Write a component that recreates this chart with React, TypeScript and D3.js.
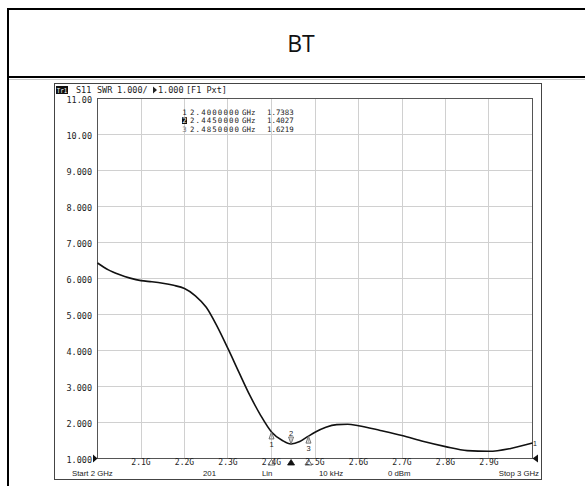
import React from 'react';
import * as d3 from 'd3';

// ---- data ----
const freqGHz = [2.0, 2.025, 2.05, 2.075, 2.1, 2.125, 2.15, 2.175, 2.2, 2.225, 2.25, 2.275, 2.3, 2.325, 2.35, 2.375, 2.4, 2.425, 2.445, 2.465, 2.485, 2.5, 2.525, 2.55, 2.575, 2.6, 2.65, 2.7, 2.75, 2.8, 2.85, 2.9, 2.95, 3.0];
const swrValues = [6.43, 6.24, 6.11, 6.01, 5.94, 5.91, 5.87, 5.81, 5.72, 5.52, 5.2, 4.67, 4.05, 3.4, 2.76, 2.2, 1.738, 1.5, 1.403, 1.47, 1.622, 1.73, 1.87, 1.94, 1.95, 1.91, 1.78, 1.64, 1.47, 1.33, 1.22, 1.2, 1.28, 1.43];

const xTicks = [2.1, 2.2, 2.3, 2.4, 2.5, 2.6, 2.7, 2.8, 2.9];
const xTickLabels = ['2.1G', '2.2G', '2.3G', '2.4G', '2.5G', '2.6G', '2.7G', '2.8G', '2.9G'];
const yTicks = [1, 2, 3, 4, 5, 6, 7, 8, 9, 10, 11];
const yTickLabels = ['1.000', '2.000', '3.000', '4.000', '5.000', '6.000', '7.000', '8.000', '9.000', '10.00', '11.00'];

const markerIds = ['1', '2', '3'];
const markerFreqs = [2.4, 2.445, 2.485];
const markerFreqText = ['2.4000000', '2.4450000', '2.4850000'];
const markerValues = [1.7383, 1.4027, 1.6219];

const footerLabels = ['Start 2 GHz', '201', 'Lin', '10 kHz', '0 dBm', 'Stop 3 GHz'];
const footerX = [72, 203, 262, 319, 388, 539];

const titleText = 'BT';

const W = 585;
const H = 486;
const mono = "'DejaVu Sans Mono', monospace";
const sans = "'Liberation Sans', Arial, sans-serif";

export default function App() {
  const x = d3.scaleLinear().domain([2, 3]).range([97.5, 532.5]);
  const y = d3.scaleLinear().domain([1, 11]).range([458.5, 98.5]);
  const snap = (v: number) => Math.round(v - 0.5) + 0.5;

  const pts = freqGHz.map((f, i) => [f, swrValues[i]] as [number, number]);
  const line = d3
    .line<[number, number]>()
    .x((d) => x(d[0]))
    .y((d) => y(d[1]))
    .curve(d3.curveMonotoneX);

  return (
    <svg width={W} height={H} style={{ position: 'absolute', left: 0, top: 0, background: '#fff' }}>
      {/* outer frame */}
      <rect x={7} y={8} width={2} height={H - 8} fill="#000" />
      <rect x={7} y={8} width={W - 7} height={2} fill="#000" />
      <rect x={7} y={76} width={W - 7} height={2} fill="#000" />
      <line x1={9} x2={W} y1={79.5} y2={79.5} stroke="#c8c8c8" />
      <text x={301} y={52} textAnchor="middle" fontFamily="'Open Sans', 'Noto Sans', sans-serif" fontSize={23} fill="#111">
        {titleText}
      </text>

      {/* instrument screenshot box */}
      <rect x={54.5} y={83.5} width={487} height={396} fill="#fff" stroke="#444" />

      {/* header */}
      <rect x={56} y={86} width={12} height={8} fill="#111" />
      <text x={56.8} y={92.8} fontFamily={mono} fontSize={7} textLength={10.4} lengthAdjust="spacingAndGlyphs" fill="#fff">Tr1</text>
      <g fontFamily={mono} fontSize={8.5} fill="#222">
        <text x={76} y={93}>S11</text>
        <text x={97} y={93}>SWR</text>
        <text x={117} y={93}>1.000/</text>
        <path d="M153,86.5 L157,90 L153,93.5 Z" fill="#222" />
        <text x={158} y={93}>1.000</text>
        <text x={186} y={93}>[F1 Pxt]</text>
      </g>

      {/* grid */}
      <g stroke="#d0d0d0" strokeWidth={1}>
        {xTicks.map((t) => (
          <line key={'gx' + t} x1={snap(x(t))} x2={snap(x(t))} y1={y(11)} y2={y(1)} />
        ))}
        {yTicks.slice(1, -1).map((t) => (
          <line key={'gy' + t} x1={x(2)} x2={x(3)} y1={snap(y(t))} y2={snap(y(t))} />
        ))}
      </g>
      <rect x={x(2)} y={y(11)} width={x(3) - x(2)} height={y(1) - y(11)} fill="none" stroke="#555" />

      {/* y tick labels */}
      <g fontFamily={mono} fontSize={8.5} fill="#222" textAnchor="end">
        {yTicks.map((t, i) => (
          <text key={'yl' + t} x={92} y={y(t) + 4}>{yTickLabels[i]}</text>
        ))}
      </g>

      {/* x tick labels */}
      <g fontFamily={mono} fontSize={8} fill="#222" textAnchor="middle">
        {xTicks.map((t, i) => (
          <text key={'xl' + t} x={x(t)} y={465}>{xTickLabels[i]}</text>
        ))}
      </g>

      {/* reference level arrows */}
      <path d={`M${x(2)},${y(1)} L${x(2) - 4.5},${y(1) - 4} L${x(2) - 4.5},${y(1) + 4} Z`} fill="#111" />
      <path d={`M${x(3)},${y(1)} L${x(3) + 5.5},${y(1) - 4} L${x(3) + 5.5},${y(1) + 4} Z`} fill="#111" />

      {/* marker table */}
      <g fontFamily={mono} fontSize={7.4} fill="#222">
        {markerIds.map((id, i) => {
          const by = 114.5 + i * 8.7;
          return (
            <g key={'mt' + id}>
              {i === 1 ? (
                <>
                  <rect x={182} y={by - 6} width={5} height={6.8} fill="#111" />
                  <text x={182.2} y={by} fill="#fff">{id}</text>
                </>
              ) : (
                <text x={182.2} y={by} fill={i === 2 ? '#777' : '#222'}>{id}</text>
              )}
              <text x={190} y={by} textLength={49} lengthAdjust="spacing">{markerFreqText[i]}</text>
              <text x={242} y={by}>GHz</text>
              <text x={267} y={by}>{markerValues[i].toFixed(4)}</text>
            </g>
          );
        })}
      </g>

      {/* trace */}
      <path d={line(pts) || ''} fill="none" stroke="#111" strokeWidth={1.6} />
      <text x={533} y={446} fontFamily={sans} fontSize={7} fill="#222">1</text>

      {/* markers on the trace */}
      {markerIds.map((id, i) => {
        const px = x(markerFreqs[i]);
        const py = y(markerValues[i]);
        const down = i === 1;
        const tri = down
          ? `M${px},${py} L${px - 2.5},${py - 7} L${px + 2.5},${py - 7} Z`
          : `M${px},${py} L${px - 2.5},${py + 7} L${px + 2.5},${py + 7} Z`;
        return (
          <g key={'mk' + id}>
            <path d={tri} fill="#eee" stroke="#555" strokeWidth={0.8} />
            <line x1={px} x2={px} y1={down ? py - 6 : py + 1} y2={down ? py - 1 : py + 6} stroke="#888" strokeWidth={0.6} />
            <text x={px} y={down ? py - 8 : py + 15} textAnchor="middle" fontFamily={sans} fontSize={7.5} fill="#222">
              {id}
            </text>
          </g>
        );
      })}

      {/* marker indicators on the axis row */}
      {markerIds.map((id, i) => {
        const px = x(markerFreqs[i]);
        const active = i === 1;
        return (
          <path
            key={'ax' + id}
            d={`M${px},459.5 L${px - 3.5},465 L${px + 3.5},465 Z`}
            fill={active ? '#111' : 'none'}
            stroke={active ? '#111' : '#444'}
            strokeWidth={0.8}
          />
        );
      })}

      {/* footer */}
      <g fontFamily={sans} fontSize={7.8} fill="#222">
        {footerLabels.map((s, i) => (
          <text key={'ft' + i} x={footerX[i]} y={476} textAnchor={i === footerLabels.length - 1 ? 'end' : 'start'}>
            {s}
          </text>
        ))}
      </g>
    </svg>
  );
}
